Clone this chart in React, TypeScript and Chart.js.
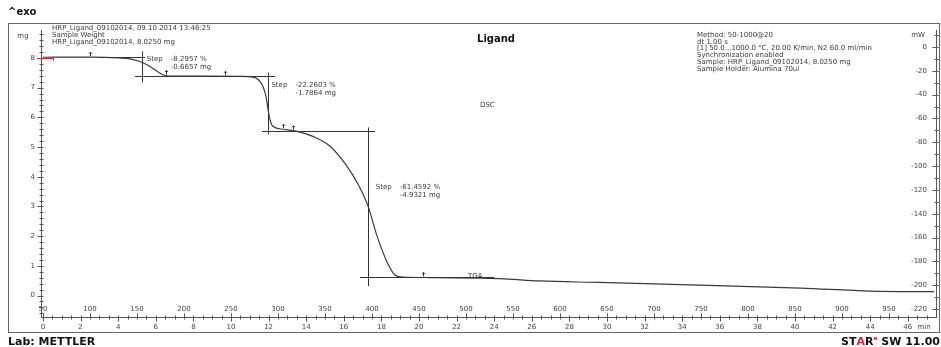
import React, { useEffect, useRef } from "react";
import { Chart, registerables } from "chart.js";

Chart.register(...registerables);

// ---- data ----
const timeMin = [0, 2.5, 4.1, 4.63, 5.16, 5.69, 6.12, 6.49, 7.02, 8.35, 10.48, 11.28, 11.54, 11.7, 11.86, 11.97, 12.07, 12.23, 12.77, 13.51, 14.36, 15.27, 16.06, 16.76, 17.29, 17.77, 18.3, 18.72, 19.1, 20.59, 24.3, 26.4, 29.6, 34.9, 40.3, 44.0, 47.4];
const massMg = [8.025, 8.03, 8.0, 7.97, 7.88, 7.71, 7.53, 7.41, 7.39, 7.39, 7.38, 7.34, 7.21, 7.04, 6.71, 6.27, 5.93, 5.7, 5.6, 5.53, 5.36, 5.03, 4.45, 3.75, 3.01, 2.0, 1.13, 0.69, 0.62, 0.605, 0.57, 0.49, 0.44, 0.35, 0.25, 0.15, 0.13];

const massTicks = [0, 1, 2, 3, 4, 5, 6, 7, 8];
const mWTicks = [0, -20, -40, -60, -80, -100, -120, -140, -160, -180, -200, -220];
const minTicks = [0, 2, 4, 6, 8, 10, 12, 14, 16, 18, 20, 22, 24, 26, 28, 30, 32, 34, 36, 38, 40, 42, 44, 46];
const tempTicks = [50, 100, 150, 200, 250, 300, 350, 400, 450, 500, 550, 600, 650, 700, 750, 800, 850, 900, 950];

// step evaluation: vertical line time, top/bottom mass, label anchor (time, mass), texts
const stepTime = [5.27, 11.97, 17.29];
const stepTop = [8.22, 7.51, 5.66];
const stepBottom = [7.18, 5.43, 0.32];
const stepLabelTime = [5.52, 12.15, 17.7];
const stepLabelMass = [7.96, 7.1, 3.65];
const stepPercent = ["-8.2957 %", "-22.2603 %", "-61.4592 %"];
const stepMass = ["-0.6657 mg", "-1.7864 mg", "-4.9321 mg"];
// baselines: start time, end time, mass
const baseStart = [3.0, 4.9, 11.65, 16.86];
const baseEnd = [5.43, 12.35, 17.66, 24.0];
const baseMass = [8.03, 7.39, 5.53, 0.62];
// small markers on the curve (time, min)
const markerTime = [2.5, 6.55, 9.7, 12.77, 13.3, 20.2];

const headerLeft = [
  "HRP_Ligand_09102014, 09.10.2014 13:46:25",
  "Sample Weight",
  "HRP_Ligand_09102014, 8.0250 mg",
];
const headerRight = [
  "Method: 50-1000@20",
  "dt 1.00 s",
  "[1] 50.0...1000.0 °C, 20.00 K/min, N2 60.0 ml/min",
  "Synchronization enabled",
  "Sample: HRP_Ligand_09102014, 8.0250 mg",
  "Sample Holder: Alumina 70ul",
];

const FONT = "'DejaVu Sans', Verdana, sans-serif";
const TXT = "#3a3a3a";
const AX = "#555555";

function interpMass(t: number): number {
  for (let i = 0; i < timeMin.length - 1; i++) {
    if (t >= timeMin[i] && t <= timeMin[i + 1]) {
      const f = (t - timeMin[i]) / (timeMin[i + 1] - timeMin[i]);
      return massMg[i] + f * (massMg[i + 1] - massMg[i]);
    }
  }
  return massMg[massMg.length - 1];
}

const extras = {
  id: "extras",
  afterDraw(chart: any) {
    const ctx = chart.ctx as CanvasRenderingContext2D;
    const xs = chart.scales.x;
    const ys = chart.scales.y;
    const y1 = chart.scales.y1;
    const ca = chart.chartArea;
    const X = (t: number) => xs.getPixelForValue(t);
    const Y = (m: number) => ys.getPixelForValue(m);
    const r = (v: number) => Math.round(v) + 0.5;
    ctx.save();

    // frame
    ctx.strokeStyle = "#666";
    ctx.lineWidth = 1;
    ctx.strokeRect(8.5, 23.5, 931, 309);

    // ticks
    ctx.strokeStyle = AX;
    ctx.beginPath();
    const lx = r(ca.left);
    for (let k = -3; k <= 44; k++) {
      const m = k * 0.2;
      if (m < ys.min || m > ys.max) continue;
      const py = r(Y(m));
      const major = Math.abs(m - Math.round(m)) < 1e-6;
      ctx.moveTo(lx - (major ? 4 : 2), py);
      ctx.lineTo(lx + 2, py);
    }
    const rx = r(ca.right);
    for (let v = 10; v >= -220; v -= 10) {
      const py = r(y1.getPixelForValue(v));
      const major = v % 20 === 0;
      ctx.moveTo(rx - (major ? 4 : 2), py);
      ctx.lineTo(rx + 2, py);
    }
    const by = r(ca.bottom);
    for (let k = 0; k <= 94; k++) {
      const t = k * 0.5;
      const px = r(X(t));
      const tMajor = k % 4 === 0;
      const TMajor = k % 5 === 0;
      ctx.moveTo(px, by - (TMajor ? 4 : 2));
      ctx.lineTo(px, by + (tMajor ? 4 : 2));
    }
    ctx.stroke();

    // temperature labels
    ctx.fillStyle = "#444";
    ctx.font = `7px ${FONT}`;
    ctx.textAlign = "center";
    ctx.textBaseline = "middle";
    for (const T of tempTicks) {
      ctx.fillText(String(T), X((T - 50) / 20), 309);
    }
    ctx.fillText("min", 924, 327);
    ctx.fillText("mg", 23, 36);
    ctx.fillText("mW", 918, 35);

    // evaluation lines
    ctx.strokeStyle = "#333";
    ctx.lineWidth = 1;
    ctx.beginPath();
    for (let i = 0; i < baseStart.length; i++) {
      const py = r(Y(baseMass[i]));
      ctx.moveTo(X(baseStart[i]), py);
      ctx.lineTo(X(baseEnd[i]), py);
    }
    for (let i = 0; i < stepTime.length; i++) {
      const px = r(X(stepTime[i]));
      ctx.moveTo(px, Y(stepTop[i]));
      ctx.lineTo(px, Y(stepBottom[i]));
    }
    ctx.stroke();

    // markers
    ctx.beginPath();
    for (const t of markerTime) {
      const px = r(X(t));
      const py = Y(interpMass(t));
      ctx.moveTo(px, py - 1);
      ctx.lineTo(px, py - 5);
      ctx.moveTo(px - 1.5, py - 3.5);
      ctx.lineTo(px, py - 5);
      ctx.lineTo(px + 1.5, py - 3.5);
    }
    ctx.stroke();

    // red start mark
    ctx.strokeStyle = "#d8262e";
    ctx.beginPath();
    const ry = r(Y(8.0));
    ctx.moveTo(ca.left - 4, ry);
    ctx.lineTo(X(0.55), ry);
    ctx.moveTo(r(X(0.55)), ry - 2);
    ctx.lineTo(r(X(0.55)), ry + 2);
    ctx.stroke();

    // step texts
    ctx.fillStyle = TXT;
    ctx.textAlign = "left";
    for (let i = 0; i < stepTime.length; i++) {
      const px = X(stepLabelTime[i]);
      const py = Y(stepLabelMass[i]);
      ctx.fillText("Step", px, py);
      ctx.fillText(stepPercent[i], px + 24, py);
      ctx.fillText(stepMass[i], px + 24, py + 8);
    }
    ctx.fillText("TGA", 468, 276);
    ctx.fillText("DSC", 480, 105);

    // headers
    headerLeft.forEach((s, i) => ctx.fillText(s, 52, 28 + i * 7));
    const hy = [35.5, 42, 48.5, 55, 62.5, 69.5];
    headerRight.forEach((s, i) => ctx.fillText(s, 697, hy[i]));

    // bold labels
    ctx.fillStyle = "#111";
    ctx.font = `bold 10px ${FONT}`;
    ctx.fillText("^exo", 8, 12);
    ctx.textAlign = "center";
    ctx.fillText("Ligand", 496, 39);
    ctx.textAlign = "left";
    ctx.font = `bold 11px ${FONT}`;
    ctx.fillText("Lab: METTLER", 8, 342);

    // STARe SW 11.00 (right aligned)
    const big = `bold 11px ${FONT}`;
    const small = `bold 6px ${FONT}`;
    ctx.font = big;
    const wS = ctx.measureText("ST").width;
    const wA = ctx.measureText("A").width;
    const wR = ctx.measureText("R").width;
    const wTail = ctx.measureText(" SW 11.00").width;
    ctx.font = small;
    const wE = ctx.measureText("e").width;
    let x0 = 940 - (wS + wA + wR + wE + wTail);
    ctx.font = big;
    ctx.fillStyle = "#111";
    ctx.fillText("ST", x0, 342);
    x0 += wS;
    ctx.fillStyle = "#d8262e";
    ctx.fillText("A", x0, 342);
    x0 += wA;
    ctx.fillStyle = "#111";
    ctx.fillText("R", x0, 342);
    x0 += wR;
    ctx.font = small;
    ctx.fillStyle = "#d8262e";
    ctx.fillText("e", x0, 338);
    x0 += wE;
    ctx.font = big;
    ctx.fillStyle = "#111";
    ctx.fillText(" SW 11.00", x0, 342);

    ctx.restore();
  },
};

export default function App() {
  const ref = useRef<HTMLCanvasElement | null>(null);
  useEffect(() => {
    if (!ref.current) return;
    const tickFont = { family: "'DejaVu Sans', Verdana, sans-serif", size: 7 };
    const chart = new Chart(ref.current, {
      type: "line",
      data: {
        datasets: [
          {
            label: "TGA",
            data: timeMin.map((t, i) => ({ x: t, y: massMg[i] })),
            borderColor: "#3a3a3a",
            borderWidth: 1.2,
            pointRadius: 0,
            tension: 0.4,
            cubicInterpolationMode: "monotone",
            yAxisID: "y",
            xAxisID: "x",
          },
        ],
      },
      options: {
        responsive: false,
        animation: false,
        devicePixelRatio: 1,
        layout: { padding: { top: 30, left: 0, right: 0, bottom: 0 } },
        plugins: { legend: { display: false }, tooltip: { enabled: false } },
        scales: {
          x: {
            type: "linear",
            position: "bottom",
            min: -0.106,
            max: 47.5,
            grid: { display: false, drawTicks: false },
            border: { display: true, color: AX },
            ticks: { font: tickFont, color: "#444", padding: 6, autoSkip: false, maxRotation: 0, callback: (v: any) => String(v) },
            afterBuildTicks: (s: any) => { s.ticks = minTicks.map((v) => ({ value: v })); },
            afterFit: (s: any) => { s.height = 30; },
          },
          y: {
            type: "linear",
            position: "left",
            min: -0.724,
            max: 8.943,
            grid: { display: false, drawTicks: false },
            border: { display: true, color: AX },
            ticks: { font: tickFont, color: "#444", padding: 6, callback: (v: any) => String(v) },
            afterBuildTicks: (s: any) => { s.ticks = massTicks.map((v) => ({ value: v })); },
            afterFit: (s: any) => { s.width = 41; },
          },
          y1: {
            type: "linear",
            position: "right",
            min: -226.7,
            max: 14.27,
            grid: { display: false, drawTicks: false },
            border: { display: true, color: AX },
            ticks: { font: tickFont, color: "#444", padding: -9, mirror: true, callback: (v: any) => String(v) },
            afterBuildTicks: (s: any) => { s.ticks = mWTicks.map((v) => ({ value: v })); },
            afterFit: (s: any) => { s.width = 5; },
          },
        },
      },
      plugins: [extras],
    } as any);
    return () => chart.destroy();
  }, []);
  return (
    <div style={{ position: "absolute", left: 0, top: 0, width: 941, height: 347, background: "#fff" }}>
      <canvas ref={ref} width={941} height={347} style={{ display: "block" }} />
    </div>
  );
}
